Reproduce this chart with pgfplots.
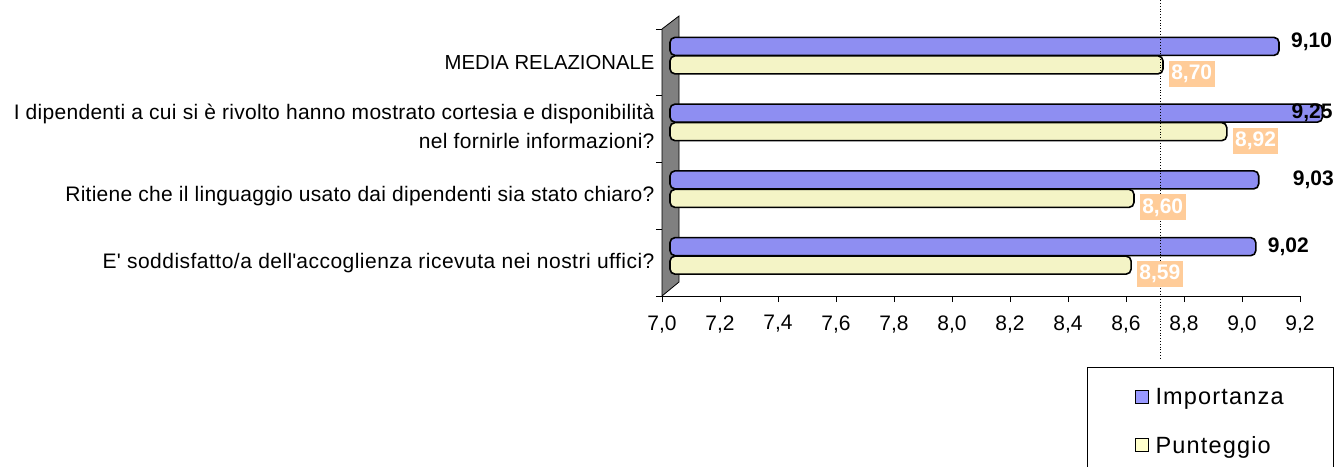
\documentclass[border=0pt]{standalone}
\usepackage{fontspec}
\setmainfont{Liberation Sans}
\usepackage{pgfplots}
\pgfplotsset{compat=1.18}
\definecolor{impcol}{HTML}{8E8EF2}
\definecolor{puncol}{HTML}{F4F4C6}
\definecolor{implegend}{HTML}{9999FF}
\definecolor{punlegend}{HTML}{FFFFCC}
\definecolor{lblbox}{HTML}{FFCC99}
\definecolor{wallgray}{HTML}{808080}
\newcommand{\catf}{\fontsize{21bp}{25bp}\selectfont}
\newcommand{\tickf}{\fontsize{21bp}{24bp}\selectfont}
\newcommand{\valf}{\fontsize{21bp}{24bp}\selectfont}
\begin{document}
\begin{tikzpicture}
\begin{axis}[
  at={(662bp,-296bp)}, anchor=south west,
  scale only axis, width=638bp, height=267bp,
  xmin=7, xmax=9.2, ymin=-0.5, ymax=3.5,
  axis lines=left, axis line style={-, black, line width=0.9bp},
  clip=false,
  /pgf/number format/assume math mode=true,
  tick align=outside, major tick length=6bp,
  tick style={black, line width=0.9bp},
  xtick={7,7.2,7.4,7.6,7.8,8,8.2,8.4,8.6,8.8,9,9.2},
  xticklabel style={font=\tickf, yshift=-10bp, /pgf/number format/.cd, fixed, fixed zerofill, precision=1, use comma},
  ytick={-0.5,0.5,1.5,2.5,3.5}, yticklabels={},
  extra y ticks={0,1,2,3},
  extra y tick labels={{\addfontfeature{LetterSpace=2.3}E\textquotesingle\ soddisfatto/a dell\textquotesingle accoglienza ricevuta nei nostri uffici?},
     {\addfontfeature{LetterSpace=1.3}Ritiene che il linguaggio usato dai dipendenti sia stato chiaro?},
     {\raisebox{14bp}{\addfontfeature{LetterSpace=1.4}\begin{tabular}{@{}r@{}}I dipendenti a cui si è rivolto hanno mostrato cortesia e disponibilità\\[4bp] nel fornirle informazioni?\end{tabular}}},
     {\fontsize{20.3bp}{24bp}\selectfont MEDIA RELAZIONALE}},
  extra y tick style={major tick length=0pt, yticklabel style={font=\catf, xshift=-4bp}},
  xbar, bar width=18bp,
  legend cell align=left,
  legend style={at={(0.666,-0.266)}, anchor=north west, draw=black, line width=0.9bp,
     font=\fontsize{23.5bp}{27bp}\selectfont\addfontfeature{LetterSpace=5}, inner xsep=48bp, inner ysep=19bp, row sep=26bp},
]
\fill[wallgray, draw=black, line width=0.8bp] (axis cs:7,-0.5) -- (axis cs:7,3.5) -- ([shift={(17bp,13bp)}]axis cs:7,3.5) -- ([shift={(17bp,14bp)}]axis cs:7,-0.5) -- cycle;
\addplot[draw=black, line width=1.6bp, fill=impcol, bar shift=16bp, xshift=8bp, rounded corners=5bp,
  legend image code/.code={\draw[draw=black, line width=0.8bp, fill=implegend, rounded corners=0pt] (0bp,-6.5bp) rectangle (13bp,6.5bp); \path (17bp,0bp);},
  point meta=x, nodes near coords={\pgfmathprintnumber[fixed,fixed zerofill,precision=2,use comma]{\pgfplotspointmeta}},
  nodes near coords style={font=\bfseries\valf, text=black, anchor=west, xshift=8bp},
  coordinate style/.condition={\coordindex==1}{xshift=22bp},
  coordinate style/.condition={\coordindex==2}{xshift=-43bp},
  coordinate style/.condition={\coordindex==3}{yshift=5bp},
] coordinates {(9.02,0) (9.03,1) (9.25,2) (9.10,3)};
\addlegendentry{Importanza\hspace{8bp}}
\addplot[draw=black, line width=1.6bp, fill=puncol, bar shift=-2.5bp, xshift=8bp, rounded corners=5bp,
  legend image code/.code={\draw[draw=black, line width=0.8bp, fill=punlegend, rounded corners=0pt] (0bp,-6.5bp) rectangle (13bp,6.5bp); \path (17bp,0bp);},
  point meta=x, nodes near coords={\pgfmathprintnumber[fixed,fixed zerofill,precision=2,use comma]{\pgfplotspointmeta}},
  nodes near coords style={font=\bfseries\valf, text=white, fill=lblbox, rounded corners=0pt, inner xsep=2.5bp, inner ysep=4bp, anchor=west, xshift=5bp, yshift=-9bp},
] coordinates {(8.59,0) (8.60,1) (8.92,2) (8.70,3)};
\addlegendentry{Punteggio}
\draw[black, dotted, line width=0.8bp] ([xshift=8bp]axis cs:8.69,3.93) -- ([xshift=8bp]axis cs:8.69,-1.44);
\end{axis}
\pgfresetboundingbox
\useasboundingbox (0,0) rectangle (1336bp,-467bp);
\end{tikzpicture}
\end{document}
